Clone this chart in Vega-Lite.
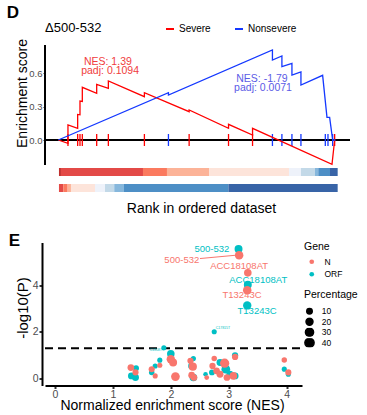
{
  "$schema": "https://vega.github.io/schema/vega-lite/v6.json",
  "padding": {"left": 6, "top": 4, "right": 0, "bottom": 0},
  "background": "white",
  "title": {"text": "D", "anchor": "start", "frame": "bounds", "fontSize": 17, "fontWeight": "bold", "dx": -2, "offset": 0, "color": "#000"},
  "spacing": 16.5,
  "resolve": {
    "scale": {"color": "independent", "fill": "independent", "stroke": "independent", "size": "independent"},
    "legend": {"color": "independent", "fill": "independent", "stroke": "independent", "size": "independent"}
  },
  "config": {
    "font": "Liberation Sans",
    "view": {"stroke": null},
    "axis": {"grid": false, "labelColor": "#4d4d4d", "titleColor": "#000", "titleFontWeight": "normal", "domainColor": "#000", "tickColor": "#333"},
    "legend": {"titleFontWeight": "normal", "titleColor": "#000", "labelColor": "#000", "padding": 0},
    "title": {"color": "#000"}
  },
  "datasets": {
    "curve": [
      {"group": "Severe", "i": 1, "rank": 0, "es": 0},
      {"group": "Severe", "i": 2, "rank": 3.49, "es": -0.03},
      {"group": "Severe", "i": 3, "rank": 3.49, "es": 0.135},
      {"group": "Severe", "i": 4, "rank": 6.99, "es": 0.105},
      {"group": "Severe", "i": 5, "rank": 6.99, "es": 0.23},
      {"group": "Severe", "i": 6, "rank": 7.83, "es": 0.227},
      {"group": "Severe", "i": 7, "rank": 7.83, "es": 0.35},
      {"group": "Severe", "i": 8, "rank": 8.67, "es": 0.347},
      {"group": "Severe", "i": 9, "rank": 8.67, "es": 0.474},
      {"group": "Severe", "i": 10, "rank": 13.86, "es": 0.42},
      {"group": "Severe", "i": 11, "rank": 13.86, "es": 0.501},
      {"group": "Severe", "i": 12, "rank": 18.07, "es": 0.465},
      {"group": "Severe", "i": 13, "rank": 18.07, "es": 0.531},
      {"group": "Severe", "i": 14, "rank": 31.08, "es": 0.39},
      {"group": "Severe", "i": 15, "rank": 31.08, "es": 0.426},
      {"group": "Severe", "i": 16, "rank": 47.23, "es": 0.255},
      {"group": "Severe", "i": 17, "rank": 47.23, "es": 0.27},
      {"group": "Severe", "i": 18, "rank": 61.45, "es": 0.105},
      {"group": "Severe", "i": 19, "rank": 61.45, "es": 0.141},
      {"group": "Severe", "i": 20, "rank": 70.12, "es": 0.045},
      {"group": "Severe", "i": 21, "rank": 70.12, "es": 0.105},
      {"group": "Severe", "i": 22, "rank": 98.8, "es": -0.219},
      {"group": "Severe", "i": 23, "rank": 99.76, "es": 0},
      {"group": "Nonsevere", "i": 1, "rank": 0, "es": 0},
      {"group": "Nonsevere", "i": 2, "rank": 39.76, "es": 0.426},
      {"group": "Nonsevere", "i": 3, "rank": 39.76, "es": 0.405},
      {"group": "Nonsevere", "i": 4, "rank": 77.3, "es": 0.81},
      {"group": "Nonsevere", "i": 5, "rank": 77.3, "es": 0.72},
      {"group": "Nonsevere", "i": 6, "rank": 80.72, "es": 0.756},
      {"group": "Nonsevere", "i": 7, "rank": 80.72, "es": 0.66},
      {"group": "Nonsevere", "i": 8, "rank": 84.34, "es": 0.69},
      {"group": "Nonsevere", "i": 9, "rank": 84.34, "es": 0.585},
      {"group": "Nonsevere", "i": 10, "rank": 87.59, "es": 0.612},
      {"group": "Nonsevere", "i": 11, "rank": 87.59, "es": 0.495},
      {"group": "Nonsevere", "i": 12, "rank": 95.42, "es": 0.582},
      {"group": "Nonsevere", "i": 13, "rank": 96.99, "es": 0.204},
      {"group": "Nonsevere", "i": 14, "rank": 97.95, "es": 0.204},
      {"group": "Nonsevere", "i": 15, "rank": 99.04, "es": 0},
      {"group": "Nonsevere", "i": 16, "rank": 100, "es": 0}
    ],
    "hits": [
      {"group": "Severe", "rank": 3.49},
      {"group": "Severe", "rank": 6.99},
      {"group": "Severe", "rank": 7.83},
      {"group": "Severe", "rank": 8.67},
      {"group": "Severe", "rank": 13.86},
      {"group": "Severe", "rank": 18.07},
      {"group": "Severe", "rank": 31.08},
      {"group": "Severe", "rank": 47.23},
      {"group": "Severe", "rank": 61.45},
      {"group": "Severe", "rank": 70.12},
      {"group": "Severe", "rank": 99.76},
      {"group": "Nonsevere", "rank": 39.76},
      {"group": "Nonsevere", "rank": 77.3},
      {"group": "Nonsevere", "rank": 80.72},
      {"group": "Nonsevere", "rank": 84.34},
      {"group": "Nonsevere", "rank": 87.59},
      {"group": "Nonsevere", "rank": 96.39},
      {"group": "Nonsevere", "rank": 97.35},
      {"group": "Nonsevere", "rank": 99.04}
    ],
    "bars": [
      {"bar": 1, "rank": 0.24, "rank_end": 0.96, "level": 1},
      {"bar": 1, "rank": 0.96, "rank_end": 30.57, "level": 2},
      {"bar": 1, "rank": 30.57, "rank_end": 39.23, "level": 3},
      {"bar": 1, "rank": 39.23, "rank_end": 54.4, "level": 4},
      {"bar": 1, "rank": 54.4, "rank_end": 83.27, "level": 5},
      {"bar": 1, "rank": 83.27, "rank_end": 87.6, "level": 6},
      {"bar": 1, "rank": 87.6, "rank_end": 92.66, "level": 7},
      {"bar": 1, "rank": 92.66, "rank_end": 93.85, "level": 8},
      {"bar": 1, "rank": 93.85, "rank_end": 98.08, "level": 9},
      {"bar": 1, "rank": 98.08, "rank_end": 100.85, "level": 10},
      {"bar": 2, "rank": 0.24, "rank_end": 1.8, "level": 2},
      {"bar": 2, "rank": 1.8, "rank_end": 3.37, "level": 3},
      {"bar": 2, "rank": 3.37, "rank_end": 4.57, "level": 4},
      {"bar": 2, "rank": 4.57, "rank_end": 13.24, "level": 5},
      {"bar": 2, "rank": 13.24, "rank_end": 16.85, "level": 6},
      {"bar": 2, "rank": 16.85, "rank_end": 20.2, "level": 7},
      {"bar": 2, "rank": 20.2, "rank_end": 23.7, "level": 8},
      {"bar": 2, "rank": 23.7, "rank_end": 61.4, "level": 9},
      {"bar": 2, "rank": 61.4, "rank_end": 100.85, "level": 10}
    ],
    "nes": [
      {"group": "Severe", "rank": 17.9, "es": 0.70, "label": "NES: 1.39"},
      {"group": "Severe", "rank": 18.7, "es": 0.62, "label": "padj: 0.1094"},
      {"group": "Nonsevere", "rank": 73.5, "es": 0.55, "label": "NES: -1.79"},
      {"group": "Nonsevere", "rank": 73.9, "es": 0.468, "label": "padj: 0.0071"}
    ],
    "pts": [
      {"gene": "ORF", "nes": 1.32, "logp": 0.10, "pct": 20},
      {"gene": "ORF", "nes": 1.39, "logp": 0.03, "pct": 20},
      {"gene": "ORF", "nes": 1.40, "logp": 0.43, "pct": 12},
      {"gene": "ORF", "nes": 1.67, "logp": 0.25, "pct": 10},
      {"gene": "ORF", "nes": 1.73, "logp": 0.53, "pct": 8},
      {"gene": "ORF", "nes": 1.81, "logp": 0.78, "pct": 8},
      {"gene": "ORF", "nes": 1.88, "logp": 1.32, "pct": 8},
      {"gene": "ORF", "nes": 2.00, "logp": 1.06, "pct": 25},
      {"gene": "ORF", "nes": 2.39, "logp": 0.85, "pct": 8},
      {"gene": "ORF", "nes": 2.36, "logp": 0.53, "pct": 20},
      {"gene": "ORF", "nes": 2.39, "logp": 0.03, "pct": 25},
      {"gene": "ORF", "nes": 2.60, "logp": 0.17, "pct": 5},
      {"gene": "ORF", "nes": 2.71, "logp": 0.25, "pct": 12},
      {"gene": "ORF", "nes": 2.85, "logp": 0.68, "pct": 20},
      {"gene": "ORF", "nes": 2.95, "logp": 0.39, "pct": 35},
      {"gene": "ORF", "nes": 3.02, "logp": 0.17, "pct": 20},
      {"gene": "ORF", "nes": 3.11, "logp": 0.99, "pct": 15},
      {"gene": "ORF", "nes": 3.11, "logp": 0.10, "pct": 20},
      {"gene": "ORF", "nes": 3.96, "logp": 0.39, "pct": 8},
      {"gene": "ORF", "nes": 4.03, "logp": 0.17, "pct": 8},
      {"gene": "ORF", "nes": 2.75, "logp": 2.01, "pct": 8},
      {"gene": "ORF", "nes": 3.17, "logp": 5.59, "pct": 28},
      {"gene": "ORF", "nes": 3.33, "logp": 4.05, "pct": 28},
      {"gene": "ORF", "nes": 3.32, "logp": 3.15, "pct": 32},
      {"gene": "N", "nes": 1.31, "logp": 0.46, "pct": 18},
      {"gene": "N", "nes": 1.39, "logp": 0.25, "pct": 14},
      {"gene": "N", "nes": 1.67, "logp": 0.39, "pct": 14},
      {"gene": "N", "nes": 1.73, "logp": 0.10, "pct": 8},
      {"gene": "N", "nes": 1.81, "logp": 0.56, "pct": 8},
      {"gene": "N", "nes": 2.00, "logp": 0.82, "pct": 32},
      {"gene": "N", "nes": 2.04, "logp": 0.68, "pct": 28},
      {"gene": "N", "nes": 2.08, "logp": 0.07, "pct": 35},
      {"gene": "N", "nes": 2.34, "logp": 0.75, "pct": 15},
      {"gene": "N", "nes": 2.38, "logp": 0.50, "pct": 30},
      {"gene": "N", "nes": 2.36, "logp": 0.13, "pct": 18},
      {"gene": "N", "nes": 2.40, "logp": 0.03, "pct": 18},
      {"gene": "N", "nes": 2.62, "logp": 0.03, "pct": 6},
      {"gene": "N", "nes": 2.75, "logp": 0.85, "pct": 10},
      {"gene": "N", "nes": 2.72, "logp": 0.53, "pct": 15},
      {"gene": "N", "nes": 2.79, "logp": 0.32, "pct": 18},
      {"gene": "N", "nes": 2.85, "logp": 0.17, "pct": 20},
      {"gene": "N", "nes": 2.93, "logp": 0.65, "pct": 40},
      {"gene": "N", "nes": 2.97, "logp": 0.03, "pct": 18},
      {"gene": "N", "nes": 3.08, "logp": 0.10, "pct": 25},
      {"gene": "N", "nes": 3.11, "logp": 0.92, "pct": 15},
      {"gene": "N", "nes": 3.96, "logp": 0.79, "pct": 10},
      {"gene": "N", "nes": 4.03, "logp": 0.25, "pct": 14},
      {"gene": "N", "nes": 3.18, "logp": 5.32, "pct": 33},
      {"gene": "N", "nes": 3.33, "logp": 4.56, "pct": 25},
      {"gene": "N", "nes": 3.32, "logp": 3.81, "pct": 33}
    ],
    "labs": [
      {"gene": "ORF", "nes": 2.71, "logp": 5.61, "label": "500-532"},
      {"gene": "N", "nes": 2.19, "logp": 5.11, "label": "500-532"},
      {"gene": "N", "nes": 3.18, "logp": 4.84, "label": "ACC18108AT"},
      {"gene": "ORF", "nes": 3.51, "logp": 4.27, "label": "ACC18108AT"},
      {"gene": "N", "nes": 3.23, "logp": 3.58, "label": "T13243C"},
      {"gene": "ORF", "nes": 3.49, "logp": 2.89, "label": "T13243C"}
    ],
    "tiny": [
      {"gene": "ORF", "nes": 2.90, "logp": 2.19, "label": "C17815T"},
      {"gene": "ORF", "nes": 1.76, "logp": 1.20, "label": "C18087T"}
    ],
    "seg": [
      {"nes": 2.504, "logp": 5.18, "nes2": 3.108, "logp2": 5.32}
    ]
  },
  "vconcat": [
    {
      "width": 305,
      "height": 147,
      "title": {"text": "Δ500-532", "anchor": "start", "frame": "group", "fontSize": 13, "fontWeight": "normal", "offset": -11},
      "layer": [
        {
          "data": {"name": "bars"},
          "transform": [{"filter": "datum.bar == 1"}],
          "mark": {"type": "rect"},
          "encoding": {
            "x": {"field": "rank", "type": "quantitative", "scale": {"domain": [-4.8, 105.3], "nice": false, "zero": false},
                  "axis": {"domain": false, "ticks": false, "labels": false, "title": "Rank in ordered dataset", "titleFontSize": 14, "titleX": 156, "titleY": 16, "titleBaseline": "middle"}},
            "x2": {"field": "rank_end"},
            "y": {"datum": -0.252},
            "y2": {"datum": -0.324},
            "fill": {"field": "level", "type": "ordinal", "scale": {"domain": [1,2,3,4,5,6,7,8,9,10], "range": ["#c0302e", "#e34a47", "#fb7a5f", "#fcb398", "#fde4da", "#eef2fa", "#c3d9e8", "#86b7dc", "#4d8fc6", "#3864a7"]}, "legend": null}
          }
        },
        {
          "data": {"name": "bars"},
          "transform": [{"filter": "datum.bar == 2"}],
          "mark": {"type": "rect"},
          "encoding": {
            "x": {"field": "rank", "type": "quantitative"},
            "x2": {"field": "rank_end"},
            "y": {"datum": -0.396},
            "y2": {"datum": -0.468},
            "fill": {"field": "level", "type": "ordinal", "legend": null}
          }
        },
        {
          "data": {"values": [{}]},
          "mark": {"type": "rule", "color": "black", "strokeWidth": 2},
          "encoding": {"x": {"datum": -4.8}, "x2": {"datum": 105.3}, "y": {"datum": 0}}
        },
        {
          "data": {"values": [{}]},
          "mark": {"type": "rule", "color": "black", "strokeWidth": 2},
          "encoding": {"x": {"datum": -4.8}, "y": {"datum": -0.225}, "y2": {"datum": 0.855}}
        },
        {
          "data": {"name": "hits"},
          "mark": {"type": "rule", "strokeWidth": 1.3},
          "encoding": {
            "x": {"field": "rank", "type": "quantitative"},
            "y": {"datum": -0.054},
            "y2": {"datum": 0.054},
            "stroke": {"field": "group", "type": "nominal", "scale": {"domain": ["Severe", "Nonsevere"], "range": ["#ff0000", "#1438ff"]},
                       "legend": {"title": null, "orient": "none", "legendX": 120, "legendY": -21, "direction": "horizontal", "symbolType": "stroke", "symbolSize": 64, "symbolStrokeWidth": 2, "labelFontSize": 10, "labelOffset": 4, "columnPadding": 20}}
          }
        },
        {
          "data": {"name": "curve"},
          "mark": {"type": "line", "strokeWidth": 1.3},
          "encoding": {
            "x": {"field": "rank", "type": "quantitative"},
            "y": {"field": "es", "type": "quantitative", "scale": {"domain": [-0.468, 0.855], "nice": false, "zero": false},
                  "axis": {"values": [0, 0.3, 0.6], "format": ".1f", "domain": false, "tickSize": 2, "labelPadding": 1, "labelFontSize": 9.5, "title": "Enrichment score", "titleFontSize": 14, "titleX": -23, "titleY": 48, "titleBaseline": "middle"}},
            "order": {"field": "i", "type": "quantitative"},
            "stroke": {"field": "group", "type": "nominal",
                       "legend": {"title": null, "orient": "none", "legendX": 120, "legendY": -21, "direction": "horizontal", "symbolType": "stroke", "symbolSize": 64, "symbolStrokeWidth": 2, "labelFontSize": 10, "labelOffset": 4, "columnPadding": 20}}
          }
        },
        {
          "data": {"name": "nes"},
          "mark": {"type": "text", "fontSize": 10.5},
          "encoding": {
            "x": {"field": "rank", "type": "quantitative"},
            "y": {"field": "es", "type": "quantitative"},
            "text": {"field": "label"},
            "color": {"field": "group", "type": "nominal", "scale": {"domain": ["Severe", "Nonsevere"], "range": ["#f03c3c", "#5b5be6"]}, "legend": null}
          }
        }
      ]
    },
    {
      "width": 257,
      "height": 143,
      "title": {"text": "E", "anchor": "start", "frame": "bounds", "fontSize": 17, "fontWeight": "bold", "dx": -7, "offset": -8},
      "layer": [
        {
          "data": {"values": [{}]},
          "mark": {"type": "rule", "color": "black", "strokeWidth": 2, "strokeDash": [8, 5]},
          "encoding": {"x": {"datum": -0.173}, "x2": {"datum": 4.266}, "y": {"datum": 1.301}}
        },
        {
          "data": {"name": "seg"},
          "mark": {"type": "rule", "color": "#F8766D", "strokeWidth": 1},
          "encoding": {
            "x": {"field": "nes", "type": "quantitative"},
            "y": {"field": "logp", "type": "quantitative"},
            "x2": {"field": "nes2"},
            "y2": {"field": "logp2"}
          }
        },
        {
          "data": {"name": "pts"},
          "mark": {"type": "circle", "opacity": 1},
          "encoding": {
            "x": {"field": "nes", "type": "quantitative", "scale": {"domain": [-0.173, 4.266], "nice": false, "zero": false},
                  "axis": {"values": [0, 1, 2, 3, 4], "format": "d", "domainWidth": 2, "tickSize": 3, "tickWidth": 2, "labelPadding": 1, "labelFontSize": 10.5, "title": "Normalized enrichment score (NES)", "titleFontSize": 14, "titleX": 127, "titleY": 20, "titleBaseline": "middle"}},
            "y": {"field": "logp", "type": "quantitative", "scale": {"domain": [-0.316, 5.874], "nice": false, "zero": false},
                  "axis": {"values": [0, 2, 4], "format": "d", "offset": 3, "domainWidth": 2, "tickSize": 3, "tickWidth": 2, "labelPadding": 1, "labelFontSize": 10.5, "title": "-log10(P)", "titleFontSize": 15, "titleX": -19.3, "titleY": 65, "titleBaseline": "middle"}},
            "color": {"field": "gene", "type": "nominal", "scale": {"domain": ["N", "ORF"], "range": ["#F8766D", "#00BFC4"]},
                      "legend": {"title": "Gene", "orient": "none", "legendX": 259, "legendY": -1, "titleFontSize": 10.5, "labelFontSize": 8.5, "symbolSize": 22, "symbolType": "circle", "symbolOffset": 3.5, "labelOffset": 8.5, "rowPadding": 3.5, "clipHeight": 8.5, "titlePadding": 5.5}},
            "size": {"field": "pct", "type": "quantitative", "scale": {"domain": [10, 40], "range": [30, 85], "zero": false},
                     "legend": {"title": "Percentage", "orient": "none", "legendX": 259, "legendY": 47.5, "values": [10, 20, 30, 40], "titleFontSize": 10.5, "labelFontSize": 8.5, "symbolFillColor": "black", "symbolStrokeColor": "black", "symbolType": "circle", "labelOffset": 6.7, "rowPadding": 1.5, "clipHeight": 9, "titlePadding": 6.25}}
          }
        },
        {
          "data": {"name": "labs"},
          "mark": {"type": "text", "fontSize": 9.5},
          "encoding": {
            "x": {"field": "nes", "type": "quantitative"},
            "y": {"field": "logp", "type": "quantitative"},
            "text": {"field": "label"},
            "color": {"field": "gene", "type": "nominal"}
          }
        },
        {
          "data": {"name": "tiny"},
          "mark": {"type": "text", "fontSize": 3.5},
          "encoding": {
            "x": {"field": "nes", "type": "quantitative"},
            "y": {"field": "logp", "type": "quantitative"},
            "text": {"field": "label"},
            "color": {"field": "gene", "type": "nominal"}
          }
        }
      ]
    }
  ]
}
